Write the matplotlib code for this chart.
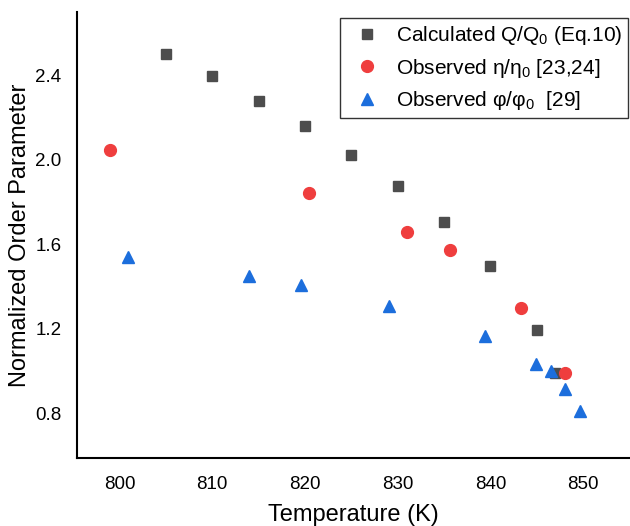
import matplotlib
matplotlib.use('Agg')
import matplotlib.pyplot as plt

# calculated Q/Q0 (Eq.10)
calc_T = [805, 810, 815, 820, 825, 830, 835, 840, 845, 847]
calc_Q = [2.50, 2.395, 2.28, 2.16, 2.025, 1.875, 1.705, 1.495, 1.195, 0.99]

# observed eta/eta0 [23,24]
eta_T = [799.0, 820.4, 831.0, 835.6, 843.3, 848.1]
eta_v = [2.045, 1.845, 1.66, 1.575, 1.30, 0.99]

# observed phi/phi0 [29]
phi_T = [800.9, 814.0, 819.6, 829.1, 839.4, 844.9, 846.5, 848.1, 849.7]
phi_v = [1.54, 1.45, 1.405, 1.31, 1.165, 1.035, 1.0, 0.915, 0.81]

x_ticks = [800, 810, 820, 830, 840, 850]
y_ticks = [0.8, 1.2, 1.6, 2.0, 2.4]


def main():
    plt.rcParams['font.family'] = ['Liberation Sans', 'DejaVu Sans']
    plt.rcParams['mathtext.fontset'] = 'custom'
    plt.rcParams['mathtext.rm'] = 'Liberation Sans'
    plt.rcParams['mathtext.default'] = 'regular'

    fig = plt.figure(figsize=(6.3, 5.26), dpi=100)
    ax = fig.add_axes([0.122, 0.129, 0.877, 0.848])

    ax.plot(calc_T, calc_Q, 's', color='#4d4d4d', markersize=7, linestyle='none',
            label='Calculated Q/Q$_0$ (Eq.10)')
    ax.plot(eta_T, eta_v, 'o', color='#ef3e3e', markersize=8.5, linestyle='none',
            label='Observed η/η$_0$ [23,24]')
    ax.plot(phi_T, phi_v, '^', color='#1c6edc', markersize=9, linestyle='none',
            label='Observed φ/φ$_0$  [29]')

    ax.set_xlim(795.4, 855)
    ax.set_ylim(0.587, 2.70)
    ax.set_xticks(x_ticks)
    ax.set_yticks(y_ticks)
    ax.set_yticklabels([f'{v:.1f}' for v in y_ticks])
    ax.tick_params(length=0, labelsize=13.5)
    ax.tick_params(axis='x', pad=13)
    ax.tick_params(axis='y', pad=11)

    for side in ['top', 'right']:
        ax.spines[side].set_visible(False)
    for side in ['left', 'bottom']:
        ax.spines[side].set_linewidth(1.5)

    ax.set_xlabel('Temperature (K)', fontsize=17, labelpad=8)
    ax.set_ylabel('Normalized Order Parameter', fontsize=17, labelpad=3)

    leg = ax.legend(loc='upper right', fontsize=15, frameon=True, fancybox=False,
                    edgecolor='black', handletextpad=0.35, borderpad=0.3,
                    handlelength=2.0, labelspacing=0.45, borderaxespad=0,
                    bbox_to_anchor=(0.998, 0.987))
    leg.get_frame().set_linewidth(1.0)

    fig.savefig('out.png', dpi=100)


if __name__ == '__main__':
    main()
